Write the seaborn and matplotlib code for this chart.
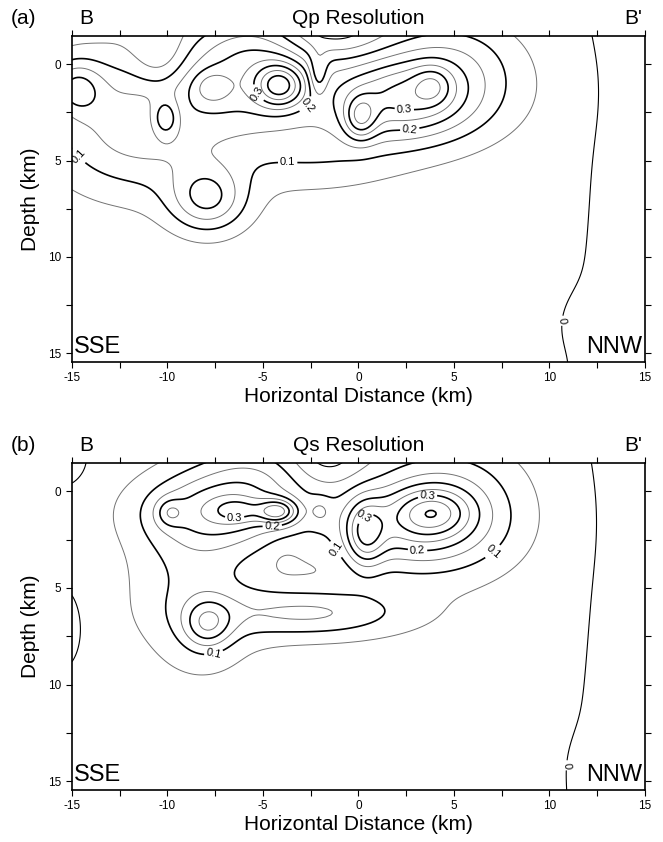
import numpy as np
import matplotlib
matplotlib.use("Agg")
import matplotlib.pyplot as plt
import seaborn as sns

# Resolution along section B-B', built from smooth bumps
# (centre x km, centre depth km, amplitude, width x, width depth)
qp_x   = [-2.0, 16.0, -12.5, -14.8, -10.4, -5.8, -5.5, -4.1, -7.7, -10.1, -10.0, -7.9, -2.0,
          -1.5, -2.1, 2.2, 3.9, 0.1, 4.8, 5.0, 12.0]
qp_z   = [4.0, 7.0, 2.8, 1.2, -0.4, 1.2, -1.0, 1.1, 1.2, 2.8, 4.5, 7.0, 4.6,
          -1.8, 0.6, 1.8, 1.1, 2.8, 1.2, -0.6, 13.3]
qp_amp = [0.025, -0.04, 0.11, 0.14, -0.08, 0.17, 0.08, 0.24, 0.08, -0.12, 0.06, 0.17, 0.06,
          -0.08, -0.10, 0.23, 0.09, 0.16, 0.075, 0.055, -0.008]
qp_sx  = [12.0, 2.5, 3.0, 1.0, 1.0, 3.2, 2.0, 0.9, 0.7, 0.5, 3.5, 1.4, 3.0,
          1.8, 0.35, 2.6, 0.7, 0.6, 3.2, 2.2, 1.2]
qp_sz  = [9.0, 40.0, 2.4, 1.0, 1.3, 1.8, 1.2, 0.8, 0.6, 0.7, 2.0, 1.2, 1.3,
          1.0, 0.8, 1.5, 0.7, 0.8, 2.0, 1.4, 1.2]

qs_x   = [-2.0, 16.0, -7.0, -5.5, -6.3, -4.2, -9.9, -8.5, -7.9, -2.5, -3.95, -2.0, -1.7,
          -15.6, -15.6, 2.8, 3.9, 0.35, 5.0, 4.5, 12.3]
qs_z   = [4.0, 7.0, 1.0, -1.0, 1.0, 1.05, 1.1, 4.3, 6.9, 6.3, 3.4, 1.0, -1.8,
          7.0, -1.6, 1.8, 1.05, 2.2, 1.2, -0.5, 14.0]
qs_amp = [0.025, -0.042, 0.17, 0.08, 0.09, 0.22, 0.085, 0.09, 0.15, 0.13, -0.015, 0.05, -0.06,
          -0.05, -0.06, 0.18, 0.14, 0.17, 0.07, 0.05, -0.006]
qs_sx  = [12.0, 2.5, 2.9, 2.0, 0.9, 0.7, 0.5, 2.4, 0.9, 3.5, 0.6, 0.4, 1.3,
          0.7, 0.8, 2.8, 1.3, 0.7, 3.0, 2.5, 1.0]
qs_sz  = [9.0, 40.0, 1.3, 1.2, 0.45, 0.45, 0.5, 3.5, 0.9, 0.9, 0.6, 0.5, 1.0,
          1.3, 0.8, 1.5, 0.8, 1.2, 2.5, 1.5, 1.2]

thin_levels = [0.05, 0.15, 0.25, 0.35]
thick_levels = [0.1, 0.2, 0.3, 0.4]

panels = [
    ("(a)", "Qp Resolution", (qp_x, qp_z, qp_amp, qp_sx, qp_sz),
     {0.1: [(-14.6, 4.7), (-3.7, 4.3)], 0.2: [(-2.6, 2.2), (2.7, 3.5)],
      0.3: [(-5.0, 1.3), (2.4, 2.4)], 0.0: [(10.6, 13.3)]}),
    ("(b)", "Qs Resolution", (qs_x, qs_z, qs_amp, qs_sx, qs_sz),
     {0.1: [(-7.6, 8.3), (-1.8, 3.4), (6.6, 2.6)], 0.2: [(-4.5, 2.1), (3.1, 3.0)],
      0.3: [(-6.5, 1.0), (0.1, 1.0), (3.6, 0.05)], 0.0: [(11.2, 14.2)]}),
]

sns.set_theme(style="ticks")
plt.rcParams['font.family'] = ['Liberation Sans', 'DejaVu Sans']
plt.rcParams['axes.unicode_minus'] = False
plt.rcParams['text.color'] = 'black'
plt.rcParams['axes.labelcolor'] = 'black'

xs = np.linspace(-15, 15, 301)
zs = np.linspace(-1.5, 15.5, 171)
X, Z = np.meshgrid(xs, zs)

def field(bumps):
    bx, bz, ba, bsx, bsz = bumps
    out = np.zeros_like(X)
    for cx, cz, a, sx, sz in zip(bx, bz, ba, bsx, bsz):
        out += a * np.exp(-((X - cx) ** 2 / (2 * sx ** 2) + (Z - cz) ** 2 / (2 * sz ** 2)))
    return out

fig = plt.figure(figsize=(6.63, 8.42), dpi=100)
boxes = [[0.1086, 0.570, 0.864, 0.387], [0.1086, 0.0618, 0.864, 0.388]]

for box, (tag, title, bumps, labels) in zip(boxes, panels):
    ax = fig.add_axes(box)
    R = field(bumps)
    ax.contour(X, Z, R, levels=thin_levels, colors='0.45', linewidths=0.7)
    for lev in [0.0] + thick_levels:
        lw = 0.8 if lev == 0.0 else 1.2
        cs = ax.contour(X, Z, R, levels=[lev], colors='black', linewidths=lw)
        if lev in labels and len(cs.allsegs[0]) > 0:
            fmt = '%.0f' if lev == 0.0 else '%.1f'
            ax.clabel(cs, manual=labels[lev], fmt=fmt, fontsize=8, inline=True, inline_spacing=2)

    ax.set_xlim(-15, 15)
    ax.set_ylim(15.45, -1.45)
    ax.set_xticks([-15, -10, -5, 0, 5, 10, 15])
    ax.set_xticks(np.arange(-15, 15.1, 2.5), minor=True)
    ax.set_yticks([0, 5, 10, 15])
    ax.set_yticks(np.arange(0, 15.1, 2.5), minor=True)
    ax.tick_params(which='both', direction='out', length=4, width=0.8, top=True, right=True,
                   labelsize=8.5, colors='black')
    for s in ax.spines.values():
        s.set_linewidth(1.2)
        s.set_color('black')
    ax.set_xlabel('Horizontal Distance (km)', fontsize=15, labelpad=2)
    ax.set_ylabel('Depth (km)', fontsize=15, labelpad=6)

    ax.text(-0.085, 1.055, tag, transform=ax.transAxes, fontsize=15, ha='center', va='center')
    ax.text(0.012, 1.055, 'B', transform=ax.transAxes, fontsize=15, ha='left', va='center')
    ax.text(0.5, 1.055, title, transform=ax.transAxes, fontsize=15, ha='center', va='center')
    ax.text(0.995, 1.055, "B'", transform=ax.transAxes, fontsize=15, ha='right', va='center')
    ax.text(0.004, 0.012, 'SSE', transform=ax.transAxes, fontsize=17, ha='left', va='bottom')
    ax.text(0.996, 0.012, 'NNW', transform=ax.transAxes, fontsize=17, ha='right', va='bottom')

fig.savefig('out.png', dpi=100)
